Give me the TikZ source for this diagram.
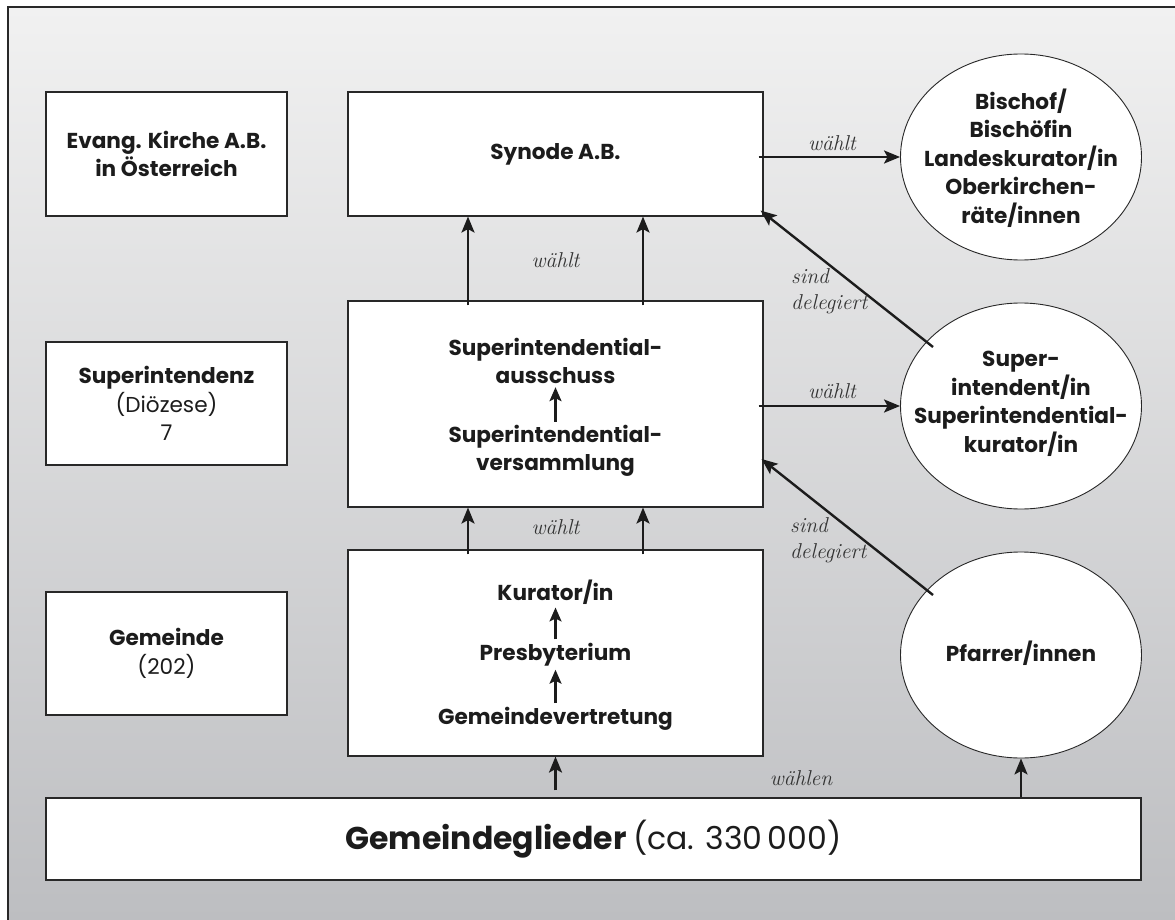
\documentclass[tikz,border=0pt]{standalone}
\usepackage{fontspec}
\setmainfont{Poppins}
\newfontfamily\labfont{Latin Modern Roman}
\usetikzlibrary{arrows.meta,calc,shapes.geometric}
\definecolor{bgtop}{RGB}{241,241,241}
\definecolor{bgbot}{RGB}{189,190,193}
\definecolor{edge}{RGB}{40,40,40}
\definecolor{ink}{RGB}{28,28,28}
\begin{document}
\begin{tikzpicture}[x=1pt,y=-1pt,
  box/.style={draw=edge,line width=1.1pt,fill=white,inner sep=0pt},
  ell/.style={draw=edge,line width=0.9pt,fill=white,ellipse,minimum width=241pt,minimum height=206pt,inner sep=0pt},
  txt/.style={font=\bfseries\fontsize{21.6}{28.5}\selectfont,align=center,text=ink,inner sep=0pt},
  lab/.style={font=\labfont\itshape\fontsize{21.5}{26}\selectfont,text=ink!90,inner sep=0pt},
  arr/.style={draw=ink,line width=2.4pt,-{Stealth[length=16pt,width=13pt,inset=3.5pt]}},
  sarr/.style={draw=ink,line width=2.3pt,-{Stealth[length=14pt,width=12pt,inset=3pt]}}
]
\useasboundingbox (0,0) rectangle (1175,920);
% background
\shade[top color=bgtop,bottom color=bgbot] (8,7) rectangle (1175,920);
\draw[edge,line width=1.1pt] (8,920) -- (8,7) -- (1175,7);

% left column
\node[box,minimum width=241pt,minimum height=124pt] (kirche) at (166.5,154) {};
\node[txt] (kirchet) at (kirche.center) {Evang. Kirche A.B.\\in Österreich};
\node[box,minimum width=241pt,minimum height=123pt] (supz) at (166.5,403.5) {};
\node[txt] (supzt) at (supz.center) {Superintendenz\\\mdseries(Diözese)\\\mdseries 7};
\node[box,minimum width=241pt,minimum height=123pt] (gemz) at (166.5,653.5) {};
\node[txt] (gemzt) at (gemz.center) {Gemeinde\\\mdseries(202)};

% middle column
\node[box,minimum width=415pt,minimum height=124pt] (synode) at (555.5,154) {};
\node[txt] (synodet) at (synode.center) {Synode A.B.};
\node[box,minimum width=415pt,minimum height=206pt] (si) at (555.5,404) {};
\node[txt] (sia) at (555.5,361) {Superintendential-\\ausschuss};
\node[txt] (siv) at (555.5,451) {Superintendential-\\versammlung};
\node[box,minimum width=415pt,minimum height=206pt] (gem) at (555.5,653) {};
\node[txt] (kur) at (555.5,592) {Kurator/in};
\node[txt] (pres) at (555.5,655) {Presbyterium};
\node[txt] (gv) at (555.5,719) {Gemeindevertretung};

% ellipses
\node[ell] (bischof) at (1021,157) {};
\node[txt] (bischoft) at (1021,158) {Bischof/\\Bischöfin\\Landeskurator/in\\Oberkirchen-\\räte/innen};
\node[ell] (sicirc) at (1021,406) {};
\node[txt] (sicirct) at (1021,404) {Super-\\intendent/in\\Superintendential-\\kurator/in};
\node[ell] (pfarrer) at (1021,655) {};
\node[txt] (pfarrert) at (1021,653) {Pfarrer/innen};

% bottom bar
\node[box,minimum width=1095pt,minimum height=82pt] (bar) at (593.5,839) {};
\node[txt,font=\bfseries\fontsize{31.5}{36}\selectfont] (bart) at (bar.center) {Gemeindeglieder \mdseries(ca. 330\,000)};

% inner arrows
\draw[sarr] ($(siv.north)+(0,-3)$) -- ($(sia.south)+(0,3)$);
\draw[sarr] ($(pres.north)+(0,-4)$) -- ($(kur.south)+(0,3)$);
\draw[sarr] ($(gv.north)+(0,-4)$) -- ($(pres.south)+(0,3)$);

% main arrows
\draw[arr] ($(si.north)+(-87.5,5)$) -- ($(synode.south)+(-87.5,0)$);
\draw[arr] ($(si.north)+(87.5,5)$) -- ($(synode.south)+(87.5,0)$);
\draw[arr] ($(gem.north)+(-87.5,5)$) -- ($(si.south)+(-87.5,0)$);
\draw[arr] ($(gem.north)+(87.5,5)$) -- ($(si.south)+(87.5,0)$);
\draw[arr] ([xshift=-5pt]synode.east |- bischof.west) -- (bischof.west);
\draw[arr] ([xshift=-5pt]si.east |- sicirc.west) -- (sicirc.west);
\draw[arr] ($(sicirc.center)+(-88,-59)$) -- ($(synode.south east)+(-3,-6)$);
\draw[arr] ($(pfarrer.center)+(-88,-60)$) -- ($(si.east)+(-2,55)$);
\draw[arr] ([yshift=7pt]bar.north -| gem.south) -- (gem.south);
\draw[arr] (bar.north -| pfarrer.south) -- (pfarrer.south);

% labels
\node[lab] (l1) at (832,143) {wählt};
\node[lab] (l2) at (555.5,260) {wählt};
\node[lab] (l3) at (832,391) {wählt};
\node[lab] (l4) at (555.5,527) {wählt};
\node[lab,align=left,anchor=west] (l5) at (791,291) {sind\\delegiert};
\node[lab,align=left,anchor=west] (l6) at (790,540) {sind\\delegiert};
\node[lab] (l7) at (801,778) {wählen};
\end{tikzpicture}
\end{document}
